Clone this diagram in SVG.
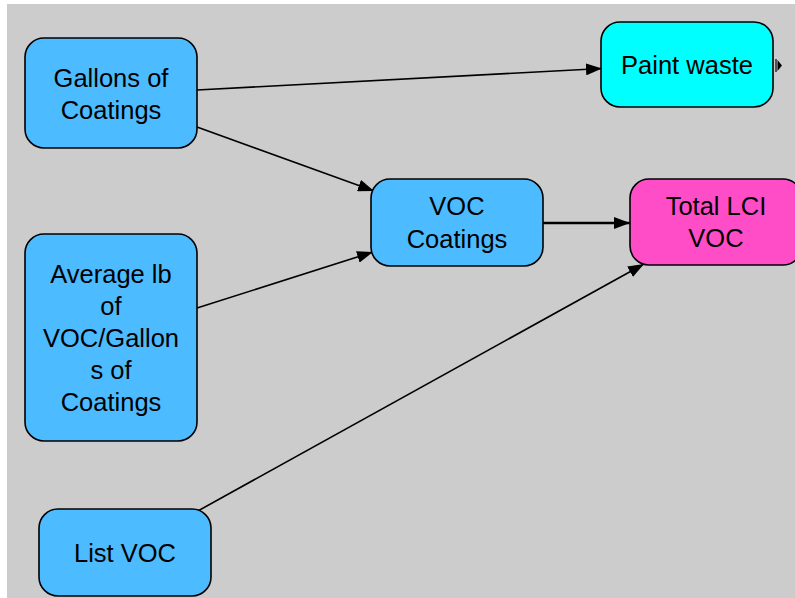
<svg xmlns="http://www.w3.org/2000/svg" width="795" height="598" viewBox="0 0 795 598">
<defs>
<style>
.n{stroke:#000;stroke-width:1.6}
.blue{fill:#4dbbff}
.cyan{fill:#00ffff}
.mag{fill:#ff4dc8}
.t{font-family:"Liberation Sans",Arial,sans-serif;font-size:25.5px;fill:#000;text-anchor:middle}
.e{stroke:#000;stroke-width:1.6;fill:none;marker-end:url(#ah)}
</style>
<marker id="ah" viewBox="0 0 16 12" refX="16" refY="6" markerWidth="16" markerHeight="12" markerUnits="userSpaceOnUse" orient="auto">
<path d="M0,0 L16,6 L0,12 Z" fill="#000"/>
</marker>
</defs>
<rect x="0" y="0" width="795" height="598" fill="#fff"/>
<rect x="7" y="4" width="788" height="594" fill="#cccccc"/>
<g id="connectors">
<line class="e" x1="197" y1="90" x2="602" y2="68.5"/>
<line class="e" x1="197" y1="127" x2="374" y2="191"/>
<line class="e" x1="197" y1="308" x2="373" y2="252"/>
<line class="e" x1="543" y1="223" x2="630" y2="223" style="stroke-width:2.4"/>
<line class="e" x1="196" y1="512" x2="644" y2="264"/>
</g>
<g id="gallons">
<rect class="n blue" x="25" y="38" width="172" height="110" rx="19"/>
<text class="t" x="111" y="87">Gallons of</text>
<text class="t" x="111" y="119">Coatings</text>
</g>
<g id="paint-waste">
<rect class="n cyan" x="601" y="22" width="172" height="85" rx="19"/>
<text class="t" x="687" y="74">Paint waste</text>
<path d="M776,59 L776,72" stroke="#000" stroke-width="1.2"/>
<path d="M777.5,60 L782,65.5 L777.5,71 Z" fill="#000"/>
</g>
<g id="voc-coatings">
<rect class="n blue" x="371" y="179" width="172" height="87" rx="19"/>
<text class="t" x="457" y="215">VOC</text>
<text class="t" x="457" y="248">Coatings</text>
</g>
<g id="total-lci-voc">
<rect class="n mag" x="630" y="179" width="172" height="86" rx="19"/>
<text class="t" x="716" y="215">Total LCI</text>
<text class="t" x="716" y="247">VOC</text>
</g>
<g id="average-lb">
<rect class="n blue" x="25" y="234" width="172" height="207" rx="19"/>
<text class="t" x="111" y="283">Average lb</text>
<text class="t" x="111" y="315">of</text>
<text class="t" x="111" y="347">VOC/Gallon</text>
<text class="t" x="111" y="379">s of</text>
<text class="t" x="111" y="411">Coatings</text>
</g>
<g id="list-voc">
<rect class="n blue" x="39" y="509" width="172" height="87" rx="19"/>
<text class="t" x="125" y="562">List VOC</text>
</g>
</svg>
